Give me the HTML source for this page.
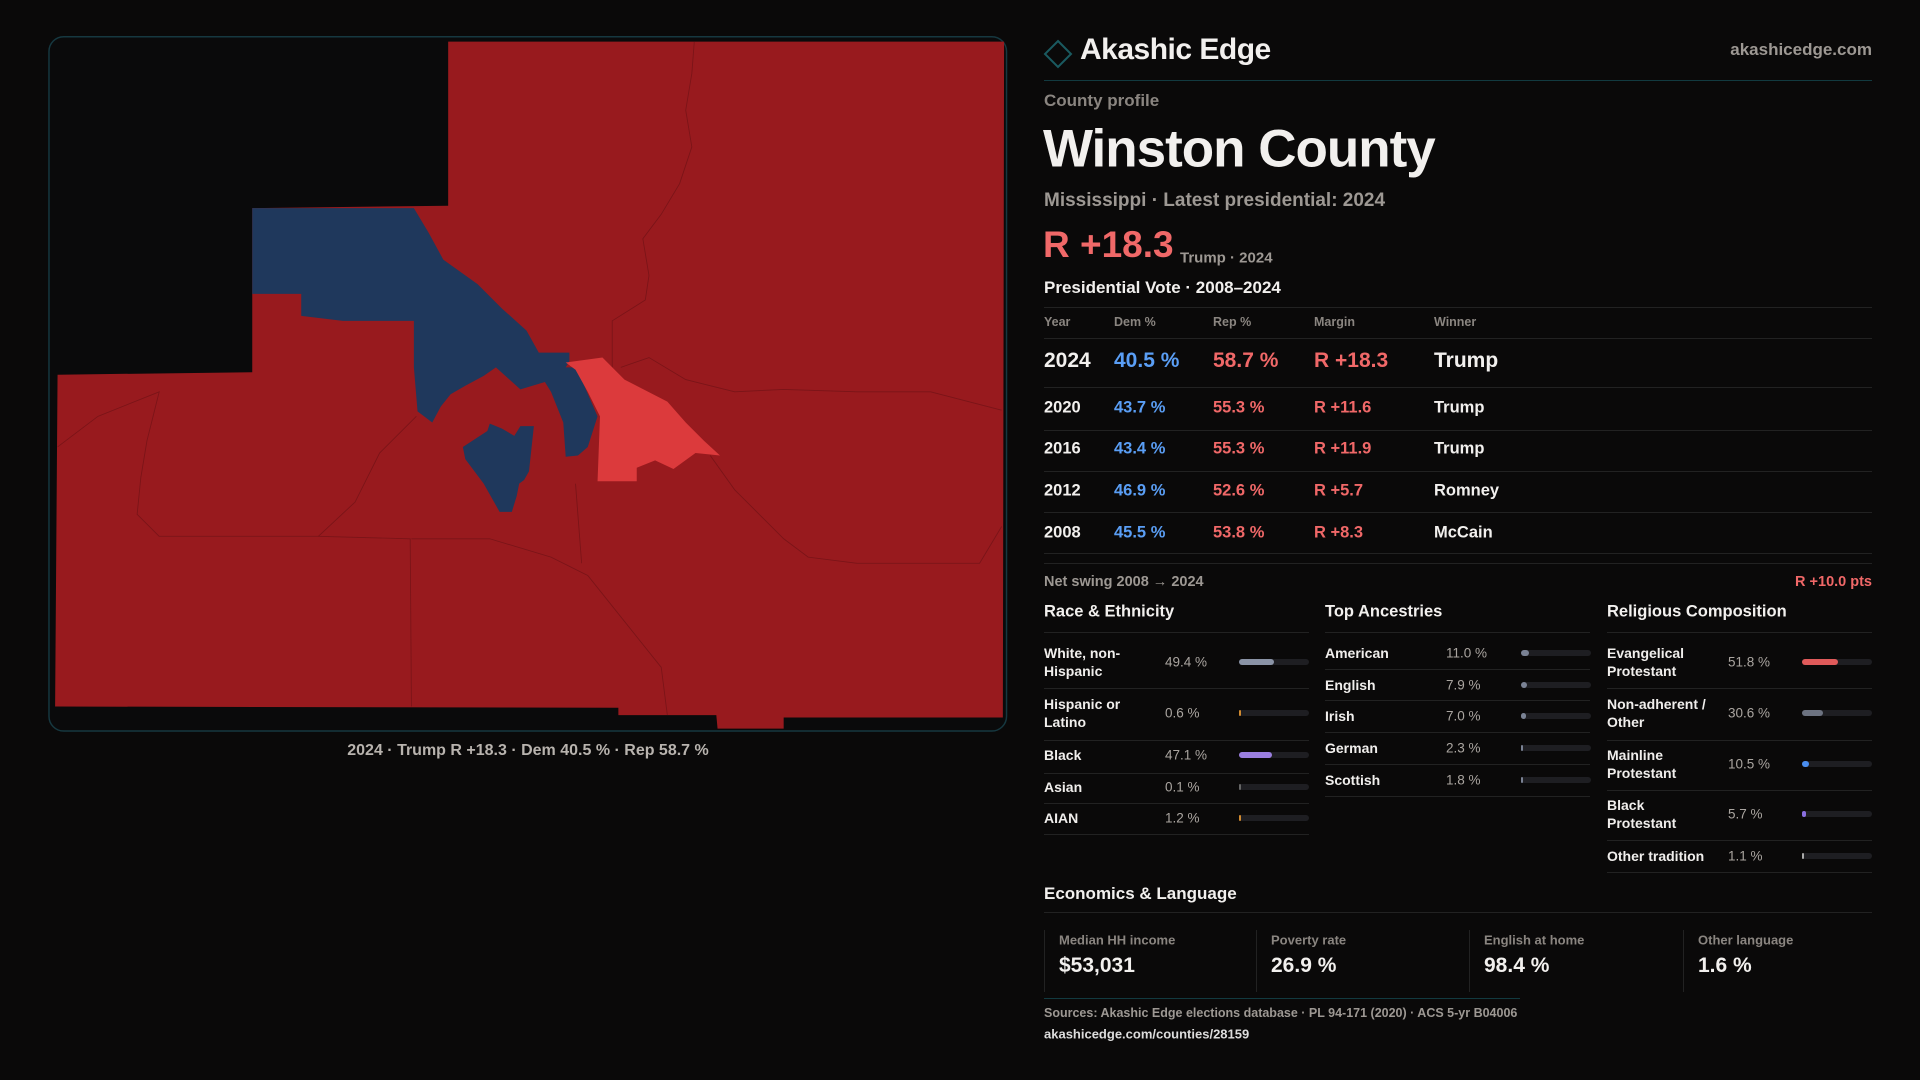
<!DOCTYPE html>
<html><head><meta charset="utf-8">
<style>
*{margin:0;padding:0;box-sizing:border-box}
body{width:1920px;height:1080px;background:#0a0909;font-family:"Liberation Sans",sans-serif;color:#f2f0ee;position:relative;overflow:hidden}
.a{position:absolute;white-space:nowrap}
.c{transform:translateY(-50%)}
.g{color:#9d9893}
.hl{position:absolute;height:1px;background:#222}
.rowlbl{font-size:14px;font-weight:bold;line-height:18px;color:#f0eeec}
.val{font-size:13.5px;color:#aaa5a0}
.track{position:absolute;height:6px;border-radius:3px;background:#1e1e22}
.fill{position:absolute;left:0;top:0;height:6px;border-radius:3px}
</style></head><body>
<svg class="a" style="left:0;top:0" width="1920" height="1080" viewBox="0 0 1568 882">
 <rect x="40" y="30" width="782" height="567" rx="12" fill="#0a0a0b" stroke="#163840" stroke-width="1.2"/>
 <polygon fill="#981a1e" points="366,34 820,34 819,586 640,586 640,595 586,595 585,584 505,584 505,578 45,577 47,306 206,304 206,170 366,168"/>
 <g fill="none" stroke="#7a1418" stroke-width="0.7">
  <path d="M567,34 L565,60 L560,90 L565,120 L555,150 L540,175 L525,195 L530,225 L527,245 L500,262 L500,300"/>
  <path d="M507,300 L530,292 L560,310 L600,320 L640,318 L700,320 L760,320 L818,335"/>
  <path d="M580,372 L600,400 L620,420 L640,440 L660,455 L700,460 L800,460 L818,430"/>
  <path d="M47,365 L80,340 L130,320 L120,360 L115,390 L112,420 L130,438 L260,438 L290,410 L310,370 L340,340"/>
  <path d="M260,438 L335,440 L336,577"/>
  <path d="M336,440 L400,440 L450,455 L480,470 L520,520 L540,545 L545,584"/>
  <path d="M470,395 L475,460"/>
 </g>
 <polygon fill="#1f385c" points="206,170 338,170 350,190 362,212 390,232 410,252 430,270 440,288 455,288 465,288 465,295 462,300 470,300 475,310 488,340 480,365 472,372 462,373 460,345 450,320 445,312 425,318 405,300 395,307 380,315 368,322 360,332 353,345 341,336 338,300 338,262 280,262 246,258 246,240 206,240"/>
 <polygon fill="#1f385c" points="378,365 398,352 400,346 410,350 420,356 425,348 436,348 432,385 428,392 424,395 422,405 418,418 408,418 395,395 380,375"/>
 <polygon fill="#dc3a3c" points="462,296 492,292 510,310 545,328 560,345 575,360 588,372 568,370 550,383 535,376 520,382 520,393 488,393 490,340 480,320 470,302"/>
</svg>
<div class="a" style="left:0;width:1056px;text-align:center;top:742px;font-size:16px;font-weight:bold;color:#b8b3ae">2024 · Trump R +18.3 · Dem 40.5 % · Rep 58.7 %</div>

<svg class="a" style="left:1043px;top:38px" width="30" height="32"><polygon points="15,3 28,16 15,29 2,16" fill="none" stroke="#1a5a60" stroke-width="2"/></svg>
<div class="a c" style="left:1080px;top:50px;font-size:30px;font-weight:bold;letter-spacing:-0.5px">Akashic Edge</div>
<div class="a c g" style="right:48px;top:50px;font-size:17px;font-weight:bold">akashicedge.com</div>
<div class="hl" style="left:1044px;width:828px;top:80px;background:#123a40"></div>
<div class="a c g" style="left:1044px;top:101px;font-size:17px;font-weight:bold;color:#8a8580">County profile</div>
<div class="a c" style="left:1043px;top:149px;font-size:53px;font-weight:bold;letter-spacing:-1px">Winston County</div>
<div class="a c g" style="left:1044px;top:201px;font-size:19px;font-weight:bold">Mississippi · Latest presidential: 2024</div>
<div class="a c" style="left:1043px;top:245px;font-size:37px;font-weight:bold;color:#f06868">R +18.3</div>
<div class="a c g" style="left:1180px;top:258px;font-size:15px;font-weight:bold">Trump · 2024</div>
<div class="a c" style="left:1044px;top:288px;font-size:17px;font-weight:bold">Presidential Vote · 2008–2024</div>
<div id="vote"></div>

<div class="a c g" style="left:1044px;top:582px;font-size:14.5px;font-weight:bold">Net swing 2008 → 2024</div>
<div class="a c" style="right:48px;top:582px;font-size:14.5px;font-weight:bold;color:#f06868">R +10.0 pts</div>
<div id="demo"></div>

<div class="a c" style="left:1044px;top:894px;font-size:17px;font-weight:bold">Economics &amp; Language</div>
<div class="hl" style="left:1044px;width:828px;top:912px"></div>
<div id="econ"></div>
<div class="hl" style="left:1044px;width:476px;top:998px;background:#123a40"></div>
<div class="a c g" style="left:1044px;top:1013px;font-size:12.5px;font-weight:bold">Sources: Akashic Edge elections database · PL 94-171 (2020) · ACS 5-yr B04006</div>
<div class="a c" style="left:1044px;top:1034px;font-size:13px;font-weight:bold;color:#ddd">akashicedge.com/counties/28159</div>

<script>
const years=["2024","2020","2016","2012","2008"];
const demPct=[40.5,43.7,43.4,46.9,45.5];
const repPct=[58.7,55.3,55.3,52.6,53.8];
const margins=[18.3,11.6,11.9,5.7,8.3];
const winners=["Trump","Trump","Trump","Romney","McCain"];
const raceLabels=["White, non-Hispanic","Hispanic or Latino","Black","Asian","AIAN"];
const raceValues=[49.4,0.6,47.1,0.1,1.2];
const ancLabels=["American","English","Irish","German","Scottish"];
const ancValues=[11.0,7.9,7.0,2.3,1.8];
const relLabels=["Evangelical Protestant","Non-adherent / Other","Mainline Protestant","Black Protestant","Other tradition"];
const relValues=[51.8,30.6,10.5,5.7,1.1];
const econLabels=["Median HH income","Poverty rate","English at home","Other language"];
const econValues=["$53,031","26.9 %","98.4 %","1.6 %"];

function div(parent,cls,style,text){const d=document.createElement('div');d.className=cls;d.style.cssText=style;if(text!==undefined)d.textContent=text;parent.appendChild(d);return d;}
const vote=document.getElementById('vote');
const cols=[1044,1114,1213,1314,1434];
["Year","Dem %","Rep %","Margin","Winner"].forEach((h,i)=>{
 const d=div(vote,'a c g',`left:${cols[i]}px;top:322px;font-size:12.5px;font-weight:bold;color:#8a8580`,h);
 
 
});
[307,338,387,430,471,512,553,563].forEach(y=>div(vote,'hl',`left:1044px;width:828px;top:${y}px`));
const rowY=[361,408,449,491,533];
years.forEach((yr,i)=>{
 const fs=i===0?21:16.5;
 const cells=[[yr,'#f2f0ee'],[demPct[i].toFixed(1)+' %','#5a9ef5'],[repPct[i].toFixed(1)+' %','#f06868'],['R +'+margins[i].toFixed(1),'#f06868'],[winners[i],'#f2f0ee']];
 cells.forEach((c,j)=>{
  const d=div(vote,'a c',`left:${cols[j]}px;top:${rowY[i]}px;font-size:${fs}px;font-weight:bold;color:${c[1]}`,c[0]);
  
  
 });
});

const demo=document.getElementById('demo');
function section(x,title,labels,values,colors,rowsY,linesY,valX,barX,lw){
 const t=div(demo,'a c',`left:${x}px;top:612px;font-size:16.5px;font-weight:bold`,title);
 
 
 div(demo,'hl',`left:${x}px;width:265px;top:632px`);
 linesY.forEach(y=>div(demo,'hl',`left:${x}px;width:265px;top:${y}px`));
 labels.forEach((l,i)=>{
  const w=(l==="Black Protestant")?80:lw;
  const a=div(demo,'a c rowlbl',`left:${x}px;top:${rowsY[i]}px;white-space:normal;width:${w}px`,l);
  
  
  const v=div(demo,'a c val',`left:${valX}px;top:${rowsY[i]}px`,values[i].toFixed(1)+' %');
  
  
  const tr=div(demo,'track',`left:${barX}px;top:${rowsY[i]-3}px;width:70px`);
  
  
  const f=div(tr,'fill',`width:${Math.max(2,values[i]/100*70)}px;background:${colors[i]}`);
  
  
 });
}
section(1044,"Race & Ethnicity",raceLabels,raceValues,["#8a93a6","#d08a30","#9b7fe0","#666","#d08a30"],[662,713,755,787,818],[688,740,773,803,834],1165,1239,110);
section(1325,"Top Ancestries",ancLabels,ancValues,["#7a8294","#7a8294","#7a8294","#7a8294","#7a8294"],[653,685,716,748,780],[669,700,732,764,796],1446,1521,110);
section(1607,"Religious Composition",relLabels,relValues,["#e05a5a","#6c7280","#4a8ef0","#8a6fe0","#aaa"],[662,713,764,814,856],[688,740,790,840,872],1728,1802,112);

const econ=document.getElementById('econ');
const ex=[1044,1256,1469,1683];
econLabels.forEach((l,i)=>{
 const s=div(econ,'a',`left:${ex[i]}px;top:930px;width:1px;height:62px;background:#222`);
 const a=div(econ,'a c g',`left:${ex[i]+15}px;top:940px;font-size:13px;font-weight:bold;color:#8a8580`,l);
 
 
 const v=div(econ,'a c',`left:${ex[i]+15}px;top:966px;font-size:21px;font-weight:bold`,econValues[i]);
 
 
});
</script>
</body></html>
